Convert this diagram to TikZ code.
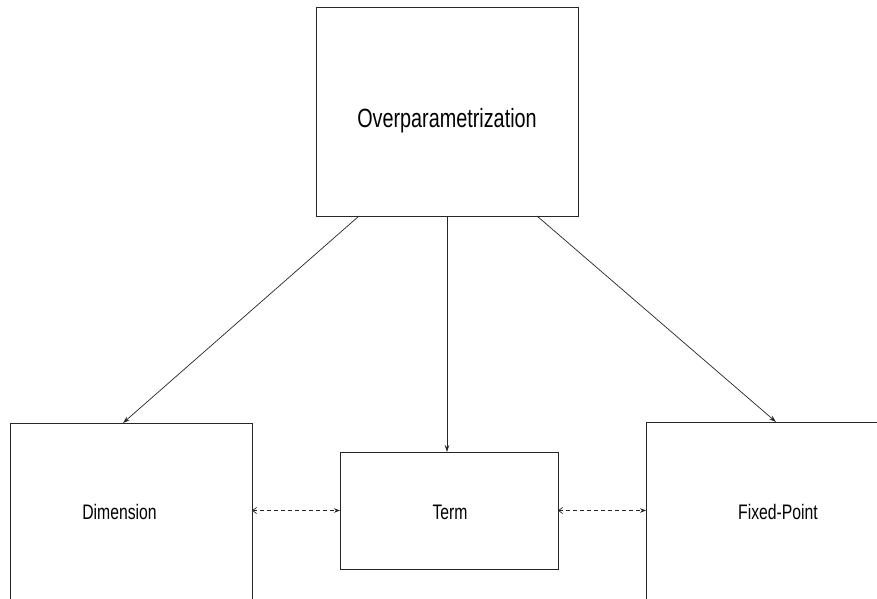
\documentclass[tikz,border=0pt]{standalone}
\usepackage{fontspec}
\setmainfont[FakeStretch=0.75]{Liberation Sans}
\usetikzlibrary{arrows.meta}
\begin{document}
\begin{tikzpicture}[x=1pt,y=-1pt,
  box/.style={draw=black!85,line width=0.8pt,rectangle,inner sep=0pt,outer sep=0pt},
  lbl/.style={inner sep=0pt,anchor=base,font=\fontsize{21}{24}\selectfont},
  conn/.style={draw=black!85,line width=0.7pt,-{Stealth[length=7pt,width=4.5pt]}},
  dconn/.style={draw=black!85,line width=0.7pt,dash pattern=on 4pt off 3pt,{Straight Barb[length=4pt,width=6pt]}-{Stealth[length=6pt,width=4.5pt]}}]
\useasboundingbox (0,0) rectangle (877,598);
\fill[white] (0,0) rectangle (877,598);
\clip (0,0) rectangle (877,598);
\node[box,minimum width=262pt,minimum height=209pt] (op) at (447,111.5) {};
\node[box,minimum width=242pt,minimum height=182pt] (dim) at (131,514) {};
\node[box,minimum width=218pt,minimum height=117pt] (term) at (449,510.5) {};
\node[box,minimum width=239pt,minimum height=183pt] (fp) at (765.5,513.5) {};
\node[lbl,font=\fontsize{26.4}{30}\selectfont] (opt) at (447,127) {Overparametrization};
\node[lbl] (dimt) at (119.5,519) {Dimension};
\node[lbl] (termt) at (450,519) {Term};
\node[lbl] (fpt) at (778,519) {Fixed-Point};
\draw[conn] ([xshift=43pt]op.south west) -- ([xshift=113pt]dim.north west);
\draw[conn] (op.south) -- (op.south |- term.north);
\draw[conn] ([xshift=-41pt]op.south east) -- ([xshift=130pt]fp.north west);
\draw[dconn] (dim.east |- term.west) -- (term.west);
\draw[dconn] (term.east) -- (fp.west |- term.east);
\end{tikzpicture}
\end{document}
